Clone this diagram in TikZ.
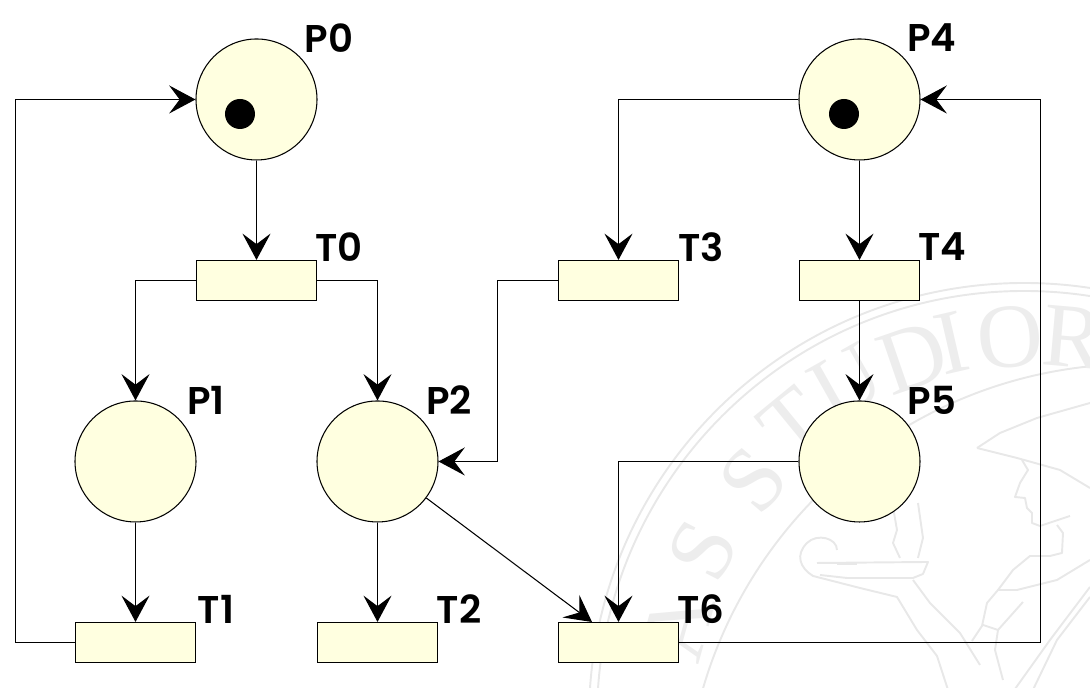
\documentclass[tikz,border=0pt]{standalone}
\usepackage{fontspec}
\usepackage{xcolor}
\usetikzlibrary{arrows.meta,calc,positioning}
\newfontfamily\placefont{Poppins}[BoldFont={Poppins SemiBold}]
\newfontfamily\sealfont{Liberation Serif}
\definecolor{placeyellow}{rgb}{1,1,0.88}
\definecolor{sealgray}{rgb}{0.91,0.91,0.91}
\definecolor{sealtext}{rgb}{0.93,0.93,0.93}
\tikzset{
  place/.style={circle,draw,fill=placeyellow,minimum size=1.21cm,inner sep=0pt,line width=0.3pt},
  trans/.style={rectangle,draw,fill=placeyellow,minimum width=1.20cm,minimum height=0.40cm,inner sep=0pt,line width=0.3pt},
  tokendot/.style={circle,fill=black,minimum size=0.3cm,inner sep=0pt},
  netlabel/.style={inner sep=0pt,font=\placefont\bfseries\fontsize{11}{11}\selectfont},
  arc/.style={line width=0.3pt,-{Stealth[length=7.5pt,width=8pt,inset=3pt]}},
  seal/.style={draw=sealgray,line width=0.55pt,line join=round},
  sealletter/.style={inner sep=0pt,text=sealtext,font=\sealfont\fontsize{26}{26}\selectfont}
}
\begin{document}
\begin{tikzpicture}
  \useasboundingbox (0,0) rectangle (10.9,6.88);
  % Seal in the background
  \begin{scope}
    \clip (0,0) rectangle (10.9,6.88);
    \coordinate (sealmid) at (10.40,-0.37);
    \draw[seal] (10.24,-0.30) circle (4.35);
    \draw[seal] (10.24,-0.30) circle (4.27);
    \draw[seal] (11.36,-1.27) circle (4.51);
    \foreach \letter/\ang/\rad/\nm in {A/164.6/3.75/a,S/152.6/3.80/b,S/139.5/3.77/c,T/129.3/3.90/d,U/119.4/3.93/e,D/109/3.89/f,I/103/3.92/g,O/94.4/3.89/h,R/85/3.89/i}
      \node[sealletter,rotate=\ang-90] (seal\nm) at ($(sealmid)+(\ang:\rad)$) {\letter};
    \begin{scope}[yshift=-2cm]
      % Head and hat
      \draw[seal] (9.77,4.40) -- (10.00,4.55) -- (10.37,4.70) -- (10.90,4.85);
      \draw[seal] (9.77,4.40) -- (10.17,4.30) -- (10.60,4.18) -- (10.90,4.00);
      \draw[seal] (10.22,4.28) -- (10.28,4.18) -- (10.20,4.05) -- (10.15,3.91) -- (10.25,3.90) -- (10.27,3.80) -- (10.32,3.75) -- (10.32,3.65) -- (10.40,3.62) -- (10.70,3.72);
      \draw[seal] (10.57,3.63) -- (10.63,3.55) -- (10.62,3.35) -- (10.50,3.32) -- (10.30,3.32) -- (10.13,3.18) -- (9.98,2.98) -- (10.17,2.98) -- (10.57,3.08) -- (10.90,3.28);
      % Arm and sleeve
      \draw[seal] (9.98,2.98) -- (9.87,2.85) -- (9.82,2.62) -- (9.72,2.47);
      \draw[seal] (9.83,2.63) -- (9.98,2.58) -- (10.23,2.86);
      \draw[seal] (9.98,2.58) -- (9.95,2.38) -- (10.03,2.08);
      \draw[seal] (9.13,3.08) -- (9.30,2.85) -- (9.60,2.55) -- (9.80,2.23);
      \draw[seal] (10.90,3.01) -- (10.50,2.48) -- (10.10,1.92);
      \draw[seal] (10.90,2.91) -- (10.57,2.48) -- (10.30,1.92);
      % Lamp
      \draw[seal] (8.37,3.38) .. controls (8.37,3.50) and (8.17,3.55) .. (8.07,3.45) .. controls (7.95,3.33) and (8.00,3.20) .. (8.13,3.12) -- (8.60,3.00) -- (8.97,2.91) -- (9.17,2.58) -- (9.37,2.32) -- (9.50,1.92);
      \draw[seal] (8.17,3.25) -- (9.28,3.26) -- (9.23,3.14) -- (9.13,3.10) -- (8.47,3.10) -- (8.20,3.13);
      \draw[seal] (8.37,3.24) -- (8.57,3.24);
      \draw[seal] (8.93,3.81) -- (8.97,3.58) -- (8.93,3.45) -- (9.00,3.30);
      \draw[seal] (9.18,3.85) -- (9.23,3.50) -- (9.18,3.30);
    \end{scope}
  \end{scope}
  % Places
  \node[place] (P0) at (2.565,5.885) {};
  \node[place] (P4) at (8.595,5.885) {};
  \node[place] (P1) at (1.355,2.265) {};
  \node[place] (P2) at (3.775,2.265) {};
  \node[place] (P5) at (8.595,2.265) {};
  % Tokens
  \node[tokendot] (tok0) at (2.40,5.74) {};
  \node[tokendot] (tok4) at (8.44,5.74) {};
  % Transitions
  \node[trans] (T0) at (2.565,4.075) {};
  \node[trans] (T3) at (6.185,4.075) {};
  \node[trans] (T4) at (8.595,4.075) {};
  \node[trans] (T1) at (1.355,0.455) {};
  \node[trans] (T2) at (3.775,0.455) {};
  \node[trans] (T6) at (6.185,0.455) {};
  % Labels
  \node[netlabel] (lP0) at (3.29,6.50) {P0};
  \node[netlabel] (lP4) at (9.32,6.50) {P4};
  \node[netlabel] (lP1) at (2.06,2.88) {P1};
  \node[netlabel] (lP2) at (4.49,2.88) {P2};
  \node[netlabel] (lP5) at (9.32,2.88) {P5};
  \node[netlabel] (lT0) at (3.39,4.41) {T0};
  \node[netlabel] (lT3) at (7.01,4.41) {T3};
  \node[netlabel] (lT4) at (9.42,4.41) {T4};
  \node[netlabel] (lT1) at (2.16,0.79) {T1};
  \node[netlabel] (lT2) at (4.59,0.79) {T2};
  \node[netlabel] (lT6) at (7.01,0.79) {T6};
  % Bends and free ends
  \coordinate (leftbend) at (0.155,0.455);
  \coordinate (rightbend) at (10.405,0.455);
  \coordinate (midbend) at (4.975,4.075);
  \coordinate (t6in) at (5.92,0.66);
  % Arcs
  \draw[arc] (P0) -- (T0);
  \draw[arc] (T0.west) -| (P1.north);
  \draw[arc] (T0.east) -| (P2.north);
  \draw[arc] (P1) -- (T1);
  \draw[arc] (T1.west) -- (leftbend) |- (P0.west);
  \draw[arc] (P2) -- (T2);
  \draw[arc] (P2) -- (t6in);
  \draw[arc] (T3.west) -- (midbend) |- (P2.east);
  \draw[arc] (P4.west) -| (T3.north);
  \draw[arc] (P4) -- (T4);
  \draw[arc] (T4) -- (P5);
  \draw[arc] (P5.west) -| (T6.north);
  \draw[arc] (T6.east) -- (rightbend) |- (P4.east);
\end{tikzpicture}
\end{document}
